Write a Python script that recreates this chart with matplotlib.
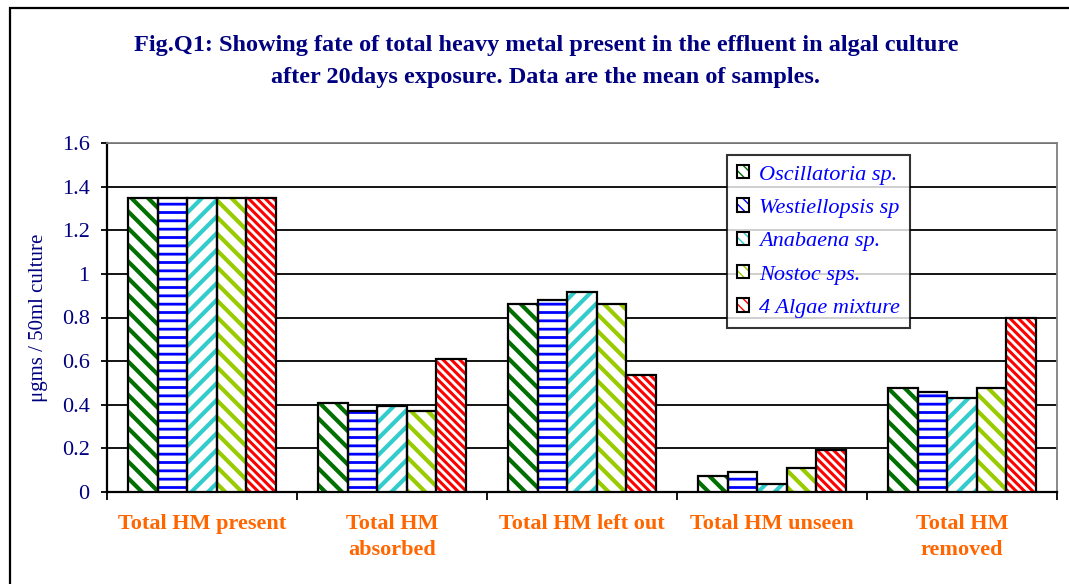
import matplotlib
matplotlib.use("Agg")
import matplotlib.pyplot as plt
import numpy as np
from matplotlib.patches import Rectangle, Patch
from matplotlib.legend_handler import HandlerTuple

categories = ["Total HM present", "Total HM\nabsorbed", "Total HM left out",
              "Total HM unseen", "Total HM\nremoved"]
series = ["Oscillatoria sp.", "Westiellopsis sp", "Anabaena sp.", "Nostoc sps.", "4 Algae mixture"]
oscillatoria = [1.35, 0.41, 0.86, 0.073, 0.476]
westiellopsis = [1.35, 0.37, 0.88, 0.092, 0.46]
anabaena = [1.35, 0.395, 0.916, 0.035, 0.43]
nostoc = [1.35, 0.37, 0.862, 0.111, 0.476]
mixture = [1.35, 0.61, 0.538, 0.193, 0.80]
yticks = [0, 0.2, 0.4, 0.6, 0.8, 1, 1.2, 1.4, 1.6]
ytick_labels = ["0", "0.2", "0.4", "0.6", "0.8", "1", "1.2", "1.4", "1.6"]

values = [oscillatoria, westiellopsis, anabaena, nostoc, mixture]
hatch_colors = ["#007000", "#0000FF", "#33CCCC", "#99CC00", "#FF0000"]
hatches = ["\\\\", "--", "//", "\\\\", "\\\\\\\\"]
hatch_lw = [3.0, 2.0, 3.0, 3.0, 2.2]

serif = ["Liberation Serif", "DejaVu Serif"]
plt.rcParams["font.family"] = serif

fig = plt.figure(figsize=(10.69, 5.84), dpi=100)
ax = fig.add_axes([107/1069, 1-492/584, (1057-107)/1069, (492-143)/584])

# outer border (extends past the right and bottom edges)
fig.patches.append(Rectangle((10/1069, -0.05), 1.2, 1.05 - 8/584, transform=fig.transFigure,
                             fill=False, edgecolor="black", linewidth=1.6))

x = np.arange(len(categories))
bw = 0.155
offsets = (np.arange(5) - 2) * bw
legend_handles = []
for i, (vals, hc, h, hl) in enumerate(zip(values, hatch_colors, hatches, hatch_lw)):
    bars = ax.bar(x + offsets[i], vals, bw, facecolor="white", edgecolor=hc, hatch=h,
                  linewidth=0, zorder=3)
    for b in bars:
        try:
            b.set_hatch_linewidth(hl)
        except Exception:
            pass
    ax.bar(x + offsets[i], vals, bw, facecolor="none", edgecolor="black", linewidth=1.6, zorder=4)
    ph = Patch(facecolor="white", edgecolor=hc, hatch="\\\\\\", linewidth=0)
    try:
        ph.set_hatch_linewidth(2.0)
    except Exception:
        pass
    pb = Patch(facecolor="none", edgecolor="black", linewidth=1.5)
    legend_handles.append((ph, pb))

ax.set_ylim(0, 1.6)
ax.set_xlim(-0.5, len(categories) - 0.5)
ax.set_yticks(yticks)
ax.set_yticklabels(ytick_labels, color="#000080", fontsize=16)
ax.yaxis.grid(True, color="black", linewidth=1.3, zorder=0)
ax.set_axisbelow(True)
ax.tick_params(axis="y", direction="out", length=4.5, width=1.3, color="black", pad=8)

ax.set_xticks(x)
ax.set_xticklabels(categories, color="#FF6600", fontsize=16, fontweight="bold", va="top",
                   linespacing=1.4)
ax.tick_params(axis="x", which="major", length=0, pad=16)
ax.set_xticks(np.arange(-0.5, len(categories)), minor=True)
ax.tick_params(axis="x", which="minor", direction="out", length=6, width=1.3, color="black")

for s in ["left", "bottom"]:
    ax.spines[s].set_color("black")
    ax.spines[s].set_linewidth(1.6)
for s in ["top", "right"]:
    ax.spines[s].set_color("#808080")
    ax.spines[s].set_linewidth(1.3)

ax.set_ylabel("μgms / 50ml culture", color="#000080", fontsize=15, labelpad=10)

leg = ax.legend(handles=legend_handles, labels=series, loc="upper left",
                handler_map={tuple: HandlerTuple(ndivide=1, pad=0)},
                bbox_to_anchor=((727-107)/950, (492-155)/349), borderaxespad=0,
                frameon=True, fancybox=False,
                edgecolor="black", handlelength=0.55, handleheight=0.55, handletextpad=0.45,
                borderpad=0.45, labelspacing=0.62,
                prop={"family": serif, "style": "italic", "size": 16})
leg.get_frame().set_linewidth(1.5)
for t in leg.get_texts():
    t.set_color("#0000FF")
leg.set_zorder(10)

fig.text(546/1069, 1-45/584, "Fig.Q1: Showing fate of total heavy metal present in the effluent in algal culture",
         ha="center", va="center", color="#000080", fontsize=17.5, fontweight="bold")
fig.text(546/1069, 1-77/584, "after 20days exposure. Data are the mean of samples.",
         ha="center", va="center", color="#000080", fontsize=17.5, fontweight="bold")

fig.savefig("out.png", dpi=100)
